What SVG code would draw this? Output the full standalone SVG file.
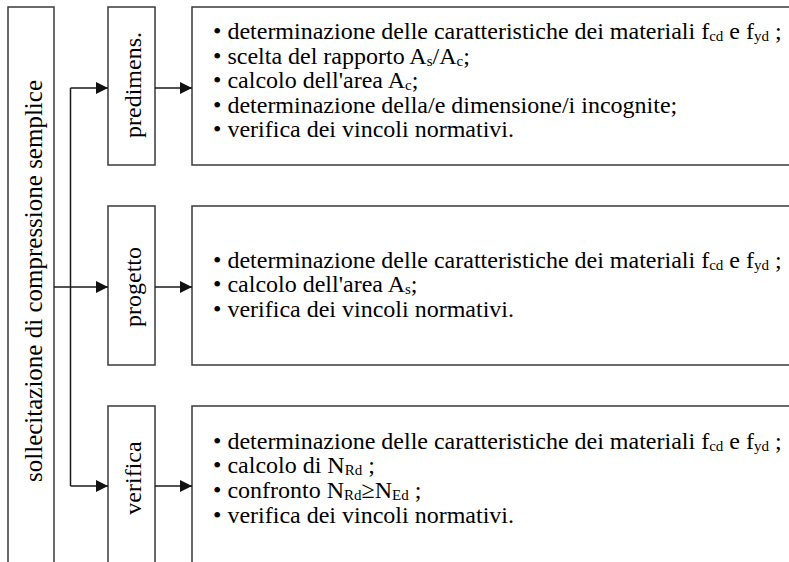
<svg xmlns="http://www.w3.org/2000/svg" width="789" height="562" viewBox="0 0 789 562">
<style>
.box{fill:#fff;stroke:#3a3a3a;stroke-width:1.5}
.con{fill:none;stroke:#1a1a1a;stroke-width:1.5}
.lbl{font-family:"Liberation Serif","Times New Roman",serif;font-size:24px;fill:#000;text-anchor:middle}
.big{font-size:25px}
.txt{font-family:"Liberation Serif","Times New Roman",serif;font-size:24px;fill:#000}
.sub{font-size:15px}
</style>
<defs>
<marker id="arr" markerUnits="userSpaceOnUse" markerWidth="12" markerHeight="12" refX="12" refY="6" orient="auto">
<path d="M0,0 L12,6 L0,12 Z" fill="#111"/>
</marker>
</defs>
<rect width="789" height="562" fill="#fff"/>
<g id="root">
<rect class="box" x="8" y="7" width="46" height="570"/>
<text class="lbl big" x="42" y="281" transform="rotate(-90 42 281)">sollecitazione di compressione semplice</text>
</g>
<g id="predimens">
<rect class="box" x="108" y="7" width="47" height="158"/>
<text class="lbl" x="141" y="85" transform="rotate(-90 141 85)">predimens.</text>
</g>
<g id="progetto">
<rect class="box" x="108" y="206" width="47" height="159"/>
<text class="lbl" x="141" y="287" transform="rotate(-90 141 287)">progetto</text>
</g>
<g id="verifica">
<rect class="box" x="108" y="406" width="47" height="170"/>
<text class="lbl" x="141" y="478" transform="rotate(-90 141 478)">verifica</text>
</g>
<g id="steps-predimens">
<rect class="box" x="192" y="7" width="620" height="158"/>
<text class="txt" x="213" y="39">• determinazione delle caratteristiche dei materiali f<tspan class="sub" dy="2">cd</tspan><tspan dy="-2"> e f</tspan><tspan class="sub" dy="2">yd</tspan><tspan dy="-2"> ;</tspan></text>
<text class="txt" x="213" y="63.5">• scelta del rapporto A<tspan class="sub" dy="2">s</tspan><tspan dy="-2">/A</tspan><tspan class="sub" dy="2">c</tspan><tspan dy="-2">;</tspan></text>
<text class="txt" x="213" y="88">• calcolo dell'area A<tspan class="sub" dy="2">c</tspan><tspan dy="-2">;</tspan></text>
<text class="txt" x="213" y="112.5">• determinazione della/e dimensione/i incognite;</text>
<text class="txt" x="213" y="137">• verifica dei vincoli normativi.</text>
</g>
<g id="steps-progetto">
<rect class="box" x="192" y="206" width="620" height="159"/>
<text class="txt" x="213" y="267.5">• determinazione delle caratteristiche dei materiali f<tspan class="sub" dy="2">cd</tspan><tspan dy="-2"> e f</tspan><tspan class="sub" dy="2">yd</tspan><tspan dy="-2"> ;</tspan></text>
<text class="txt" x="213" y="292">• calcolo dell'area A<tspan class="sub" dy="2">s</tspan><tspan dy="-2">;</tspan></text>
<text class="txt" x="213" y="317">• verifica dei vincoli normativi.</text>
</g>
<g id="steps-verifica">
<rect class="box" x="192" y="406" width="620" height="170"/>
<text class="txt" x="213" y="448.5">• determinazione delle caratteristiche dei materiali f<tspan class="sub" dy="2">cd</tspan><tspan dy="-2"> e f</tspan><tspan class="sub" dy="2">yd</tspan><tspan dy="-2"> ;</tspan></text>
<text class="txt" x="213" y="473">• calcolo di N<tspan class="sub" dy="2">Rd</tspan><tspan dy="-2"> ;</tspan></text>
<text class="txt" x="213" y="497.5">• confronto N<tspan class="sub" dy="2">Rd</tspan><tspan dy="-2">≥N</tspan><tspan class="sub" dy="2">Ed</tspan><tspan dy="-2"> ;</tspan></text>
<text class="txt" x="213" y="522.5">• verifica dei vincoli normativi.</text>
</g>
<g id="connectors">
<path class="con" d="M70.5,88 V486"/>
<path class="con" d="M70.5,88 H108" marker-end="url(#arr)"/>
<path class="con" d="M54,287 H108" marker-end="url(#arr)"/>
<path class="con" d="M70.5,486 H108" marker-end="url(#arr)"/>
<path class="con" d="M155,88 H192" marker-end="url(#arr)"/>
<path class="con" d="M155,287 H192" marker-end="url(#arr)"/>
<path class="con" d="M155,486 H192" marker-end="url(#arr)"/>
</g>
</svg>
